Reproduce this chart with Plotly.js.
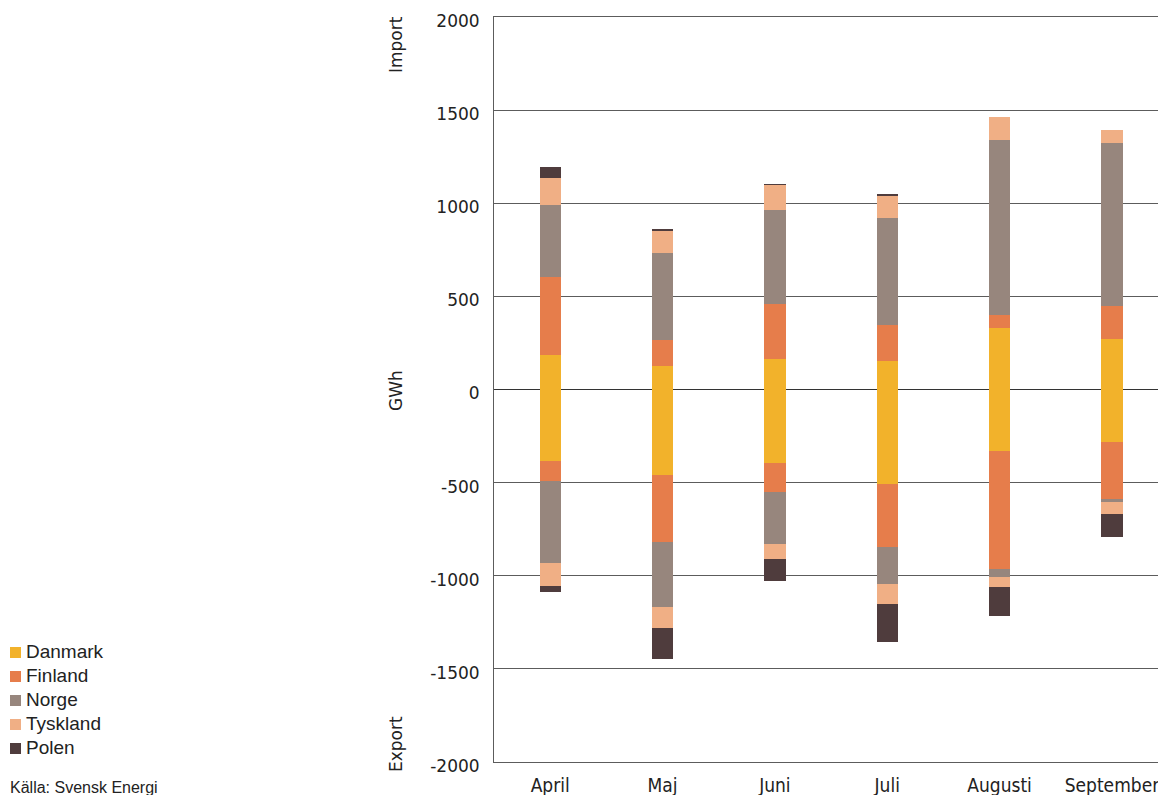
<!DOCTYPE html>
<html>
<head>
<meta charset="utf-8">
<script src="https://cdn.plot.ly/plotly-3.0.1.min.js"></script>
<style>
  html, body { margin: 0; padding: 0; background: #fff; overflow: hidden; }
  #chart { width: 1158px; height: 795px; }
</style>
</head>
<body>
<div id="chart"></div>
<script>
// Monthly electricity exchange per neighbouring country (GWh).
// Positive = import, negative = export.
const months = ['April', 'Maj', 'Juni', 'Juli', 'Augusti', 'September'];
const countries = ['Danmark', 'Finland', 'Norge', 'Tyskland', 'Polen'];
const colors = ['#F2B22B', '#E67D4B', '#97867D', '#F0AF85', '#4F3C3D'];

const danmarkImport  = [187, 127, 165, 154, 332, 273];
const finlandImport  = [419, 140, 296, 194, 70, 177];
const norgeImport    = [382, 468, 505, 575, 935, 871];
const tysklandImport = [150, 118, 134, 118, 124, 70];
const polenImport    = [54, 11, 5, 11, 0, 0];

const danmarkExport  = [-383, -459, -394, -507, -330, -281];
const finlandExport  = [-108, -360, -156, -339, -634, -306];
const norgeExport    = [-441, -349, -280, -199, -43, -16];
const tysklandExport = [-124, -113, -81, -108, -54, -65];
const polenExport    = [-31, -165, -118, -204, -156, -124];

const yTicks = [-2000, -1500, -1000, -500, 0, 500, 1000, 1500, 2000];
const source = 'Källa: Svensk Energi';

const importSeries = [danmarkImport, finlandImport, norgeImport, tysklandImport, polenImport];
const exportSeries = [danmarkExport, finlandExport, norgeExport, tysklandExport, polenExport];

// Figure geometry in pixels
const W = 1158, H = 795;
const M = { l: 494, r: 0, t: 17, b: 33 };
const PW = W - M.l - M.r, PH = H - M.t - M.b;
const px = x => (x - M.l) / PW;
const py = y => (H - M.b - y) / PH;

const traces = [];
countries.forEach((name, i) => {
  [importSeries[i], exportSeries[i]].forEach(vals => {
    traces.push({
      type: 'bar',
      name: name,
      x: months,
      y: vals,
      width: 0.19,
      marker: { color: colors[i], line: { width: 0 } },
      showlegend: false,
      hoverinfo: 'x+y+name'
    });
  });
});

const numFont = { family: 'DejaVu Sans, sans-serif', size: 17, color: '#222' };
const gridColor = '#5c5c5c';

// Legend drawn as swatches + labels in the left margin
const shapes = [];
const annotations = [];
countries.forEach((name, i) => {
  const cy = 652.5 + i * 24;
  shapes.push({
    type: 'rect', xref: 'paper', yref: 'paper',
    x0: px(10), x1: px(21), y0: py(cy - 5.5), y1: py(cy + 5.5),
    fillcolor: colors[i], line: { width: 0 }
  });
  annotations.push({
    xref: 'paper', yref: 'paper', x: px(24), y: py(cy - 1),
    xanchor: 'left', yanchor: 'middle', showarrow: false,
    text: name, font: { family: 'Liberation Sans, Arial, sans-serif', size: 19, color: '#222' }
  });
});
annotations.push({
  xref: 'paper', yref: 'paper', x: px(8), y: py(787),
  xanchor: 'left', yanchor: 'middle', showarrow: false,
  text: source, font: { family: 'Liberation Sans, Arial, sans-serif', size: 16, color: '#222' }
});

// Rotated side labels
[['Import', 45], ['GWh', 391], ['Export', 744]].forEach(([t, y]) => {
  annotations.push({
    xref: 'paper', yref: 'paper', x: px(396), y: py(y),
    xanchor: 'center', yanchor: 'middle', showarrow: false, textangle: -90,
    text: t, font: numFont
  });
});

const layout = {
  width: W, height: H,
  margin: M,
  paper_bgcolor: '#fff', plot_bgcolor: '#fff',
  barmode: 'relative',
  bargap: 0,
  showlegend: false,
  xaxis: {
    type: 'category',
    range: [-0.5, 5.41],
    showgrid: false,
    showline: true, mirror: true, linecolor: gridColor, linewidth: 1,
    ticks: '', ticklabelstandoff: 6,
    tickfont: { family: 'DejaVu Sans Condensed, Liberation Sans Narrow, Arial Narrow, sans-serif', size: 19, color: '#222' },
    fixedrange: true
  },
  yaxis: {
    range: [-2000, 2000],
    tickvals: yTicks,
    ticktext: yTicks.map(String),
    showgrid: true, gridcolor: gridColor, gridwidth: 1,
    zeroline: true, zerolinecolor: '#333', zerolinewidth: 1,
    showline: true, linecolor: gridColor, linewidth: 1,
    ticks: '', ticklabelstandoff: 10, ticklabelshift: 4,
    tickfont: numFont,
    fixedrange: true
  },
  shapes: shapes,
  annotations: annotations
};

Plotly.newPlot('chart', traces, layout, { displayModeBar: false, staticPlot: true });
</script>
</body>
</html>
